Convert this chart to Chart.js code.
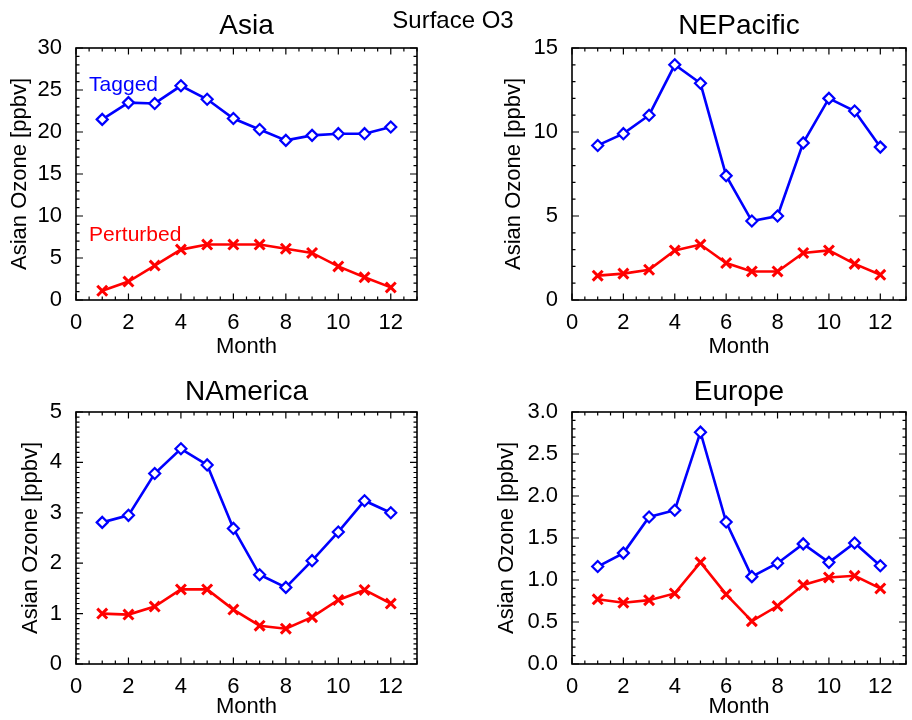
<!DOCTYPE html>
<html>
<head>
<meta charset="utf-8">
<script src="https://cdn.jsdelivr.net/npm/chart.js@4.4.1/dist/chart.umd.min.js"></script>
<style>
  html, body { margin: 0; padding: 0; background: #fff; overflow: hidden; }
  body { width: 912px; height: 720px; position: relative; }
  .panel { position: absolute; }
  #suptitle {
    position: absolute; left: 353px; width: 200px; top: 6px; text-align: center;
    font: 24px "Liberation Sans", Arial, sans-serif; color: #000; z-index: 2;
  }
</style>
</head>
<body>
<div id="suptitle">Surface O3</div>
<canvas id="asia" class="panel" style="left:0px;top:0px" width="456" height="360"></canvas>
<canvas id="nepac" class="panel" style="left:456px;top:0px" width="460" height="360"></canvas>
<canvas id="namer" class="panel" style="left:0px;top:360px" width="456" height="360"></canvas>
<canvas id="europe" class="panel" style="left:456px;top:360px" width="460" height="360"></canvas>
<script>
// data
const months = [1, 2, 3, 4, 5, 6, 7, 8, 9, 10, 11, 12];
const xTicks = [0, 2, 4, 6, 8, 10, 12];

const asiaTagged = [21.5, 23.5, 23.4, 25.5, 23.9, 21.6, 20.3, 19.0, 19.6, 19.8, 19.8, 20.6];
const asiaPerturbed = [1.1, 2.2, 4.1, 6.0, 6.6, 6.6, 6.6, 6.1, 5.6, 4.0, 2.7, 1.5];
const asiaYTicks = [0, 5, 10, 15, 20, 25, 30];

const nepacTagged = [9.2, 9.9, 11.0, 14.0, 12.9, 7.4, 4.7, 5.0, 9.35, 12.0, 11.25, 9.1];
const nepacPerturbed = [1.45, 1.57, 1.8, 2.95, 3.3, 2.2, 1.7, 1.7, 2.8, 2.95, 2.15, 1.5];
const nepacYTicks = [0, 5, 10, 15];

const namerTagged = [2.81, 2.95, 3.78, 4.27, 3.95, 2.69, 1.77, 1.52, 2.05, 2.62, 3.24, 3.0];
const namerPerturbed = [1.0, 0.98, 1.14, 1.48, 1.48, 1.08, 0.76, 0.7, 0.93, 1.27, 1.47, 1.2];
const namerYTicks = [0, 1, 2, 3, 4, 5];

const europeTagged = [1.16, 1.32, 1.75, 1.83, 2.76, 1.69, 1.04, 1.2, 1.43, 1.21, 1.44, 1.17];
const europePerturbed = [0.77, 0.73, 0.76, 0.84, 1.21, 0.83, 0.51, 0.69, 0.94, 1.03, 1.05, 0.9];
const europeYTicks = [0, 0.5, 1.0, 1.5, 2.0, 2.5, 3.0];

const FONT = '"Liberation Sans", Arial, sans-serif';
const BLUE = '#0000ff';
const RED = '#ff0000';

// frame + inward IDL style ticks on all four sides
const idlAxes = {
  id: 'idlAxes',
  afterDatasetsDraw(chart, args, opts) {
    const { ctx, chartArea: a, scales: { x, y } } = chart;
    ctx.save();
    ctx.strokeStyle = '#000';
    ctx.lineWidth = 1.6;
    ctx.strokeRect(a.left, a.top, a.right - a.left, a.bottom - a.top);
    ctx.lineWidth = 1.2;
    ctx.beginPath();
    const xs = Math.round(x.max / opts.xMinor);
    for (let i = 0; i <= xs; i++) {
      const v = i * opts.xMinor;
      const px = x.getPixelForValue(v);
      const major = Math.abs(v / opts.xMajor - Math.round(v / opts.xMajor)) < 1e-6;
      const len = major ? 6.5 : 3.5;
      ctx.moveTo(px, a.bottom); ctx.lineTo(px, a.bottom - len);
      ctx.moveTo(px, a.top); ctx.lineTo(px, a.top + len);
    }
    const ys = Math.round(y.max / opts.yMinor);
    for (let i = 0; i <= ys; i++) {
      const v = i * opts.yMinor;
      const py = y.getPixelForValue(v);
      const major = Math.abs(v / opts.yMajor - Math.round(v / opts.yMajor)) < 1e-6;
      const len = major ? 7 : 3.5;
      ctx.moveTo(a.left, py); ctx.lineTo(a.left + len, py);
      ctx.moveTo(a.right, py); ctx.lineTo(a.right - len, py);
    }
    ctx.stroke();
    // in-plot labels
    (opts.labels || []).forEach((l) => {
      ctx.fillStyle = l.color;
      ctx.font = '21px ' + FONT;
      ctx.textAlign = 'left';
      ctx.textBaseline = 'middle';
      ctx.fillText(l.text, x.getPixelForValue(l.x), y.getPixelForValue(l.y));
    });
    ctx.restore();
  },
};

function makePanel(id, p) {
  const datasets = [
    {
      label: 'Tagged',
      data: p.tagged,
      borderColor: BLUE,
      backgroundColor: BLUE,
      borderWidth: 2.6,
      pointStyle: 'rectRot',
      pointRadius: 5.5,
      pointBorderWidth: 2.2,
      pointBackgroundColor: '#fff',
      pointBorderColor: BLUE,
    },
    {
      label: 'Perturbed',
      data: p.perturbed,
      borderColor: RED,
      backgroundColor: RED,
      borderWidth: 2.6,
      pointStyle: 'crossRot',
      pointRadius: 7,
      pointBorderWidth: 3,
      pointBorderColor: RED,
    },
  ];
  datasets.forEach((d) => {
    d.data = d.data.map((v, i) => ({ x: months[i], y: v }));
  });

  return new Chart(document.getElementById(id), {
    type: 'line',
    data: { datasets },
    options: {
      responsive: false,
      animation: false,
      layout: { padding: { left: p.padLeft, right: p.padRight, top: 0, bottom: 0 } },
      plugins: {
        legend: { display: false },
        tooltip: { enabled: false },
        title: {
          display: true,
          fullSize: false,
          text: p.title,
          color: '#000',
          font: { family: FONT, size: 28, weight: 'normal' },
          padding: { top: p.titleTop, bottom: p.titleBottom },
        },
        idlAxes: { xMajor: 2, xMinor: 0.5, yMajor: p.yMajor, yMinor: p.yMinor, labels: p.labels },
      },
      scales: {
        x: {
          type: 'linear',
          min: 0,
          max: 13,
          afterBuildTicks: (s) => { s.ticks = xTicks.map((v) => ({ value: v })); },
          afterFit: (s) => { s.height = p.xHeight; },
          grid: { display: false },
          border: { display: false },
          ticks: { color: '#000', padding: 2, maxRotation: 0, font: { family: FONT, size: 22 } },
          title: {
            display: true, text: 'Month', color: '#000', padding: 0,
            font: { family: FONT, size: 22 },
          },
        },
        y: {
          type: 'linear',
          min: 0,
          max: p.yTicks[p.yTicks.length - 1],
          afterBuildTicks: (s) => { s.ticks = p.yTicks.map((v) => ({ value: v })); },
          afterFit: (s) => { s.width = p.yWidth; },
          grid: { display: false },
          border: { display: false },
          ticks: {
            color: '#000', padding: 6, font: { family: FONT, size: 22 },
            callback: (v) => v.toFixed(p.decimals),
          },
          title: {
            display: true, text: 'Asian Ozone [ppbv]', color: '#000', padding: 0,
            font: { family: FONT, size: 22 },
          },
        },
      },
    },
    plugins: [idlAxes],
  });
}

makePanel('asia', {
  title: 'Asia', tagged: asiaTagged, perturbed: asiaPerturbed, yTicks: asiaYTicks,
  yMajor: 5, yMinor: 1, decimals: 0,
  padLeft: 6.8, yWidth: 69.2, padRight: 39, titleTop: 9, titleBottom: 5.4, xHeight: 60,
  labels: [
    { text: 'Tagged', x: 0.5, y: 25.6, color: BLUE },
    { text: 'Perturbed', x: 0.5, y: 7.7, color: RED },
  ],
});
makePanel('nepac', {
  title: 'NEPacific', tagged: nepacTagged, perturbed: nepacPerturbed, yTicks: nepacYTicks,
  yMajor: 5, yMinor: 1, decimals: 0,
  padLeft: 44.8, yWidth: 71.2, padRight: 3, titleTop: 9, titleBottom: 5.4, xHeight: 60,
});
makePanel('namer', {
  title: 'NAmerica', tagged: namerTagged, perturbed: namerPerturbed, yTicks: namerYTicks,
  yMajor: 1, yMinor: 0.1, decimals: 0,
  padLeft: 18, yWidth: 58, padRight: 39, titleTop: 15, titleBottom: 3.4, xHeight: 56,
});
makePanel('europe', {
  title: 'Europe', tagged: europeTagged, perturbed: europePerturbed, yTicks: europeYTicks,
  yMajor: 0.5, yMinor: 0.1, decimals: 1,
  padLeft: 38, yWidth: 78, padRight: 3, titleTop: 15, titleBottom: 3.4, xHeight: 56,
});
</script>
</body>
</html>
